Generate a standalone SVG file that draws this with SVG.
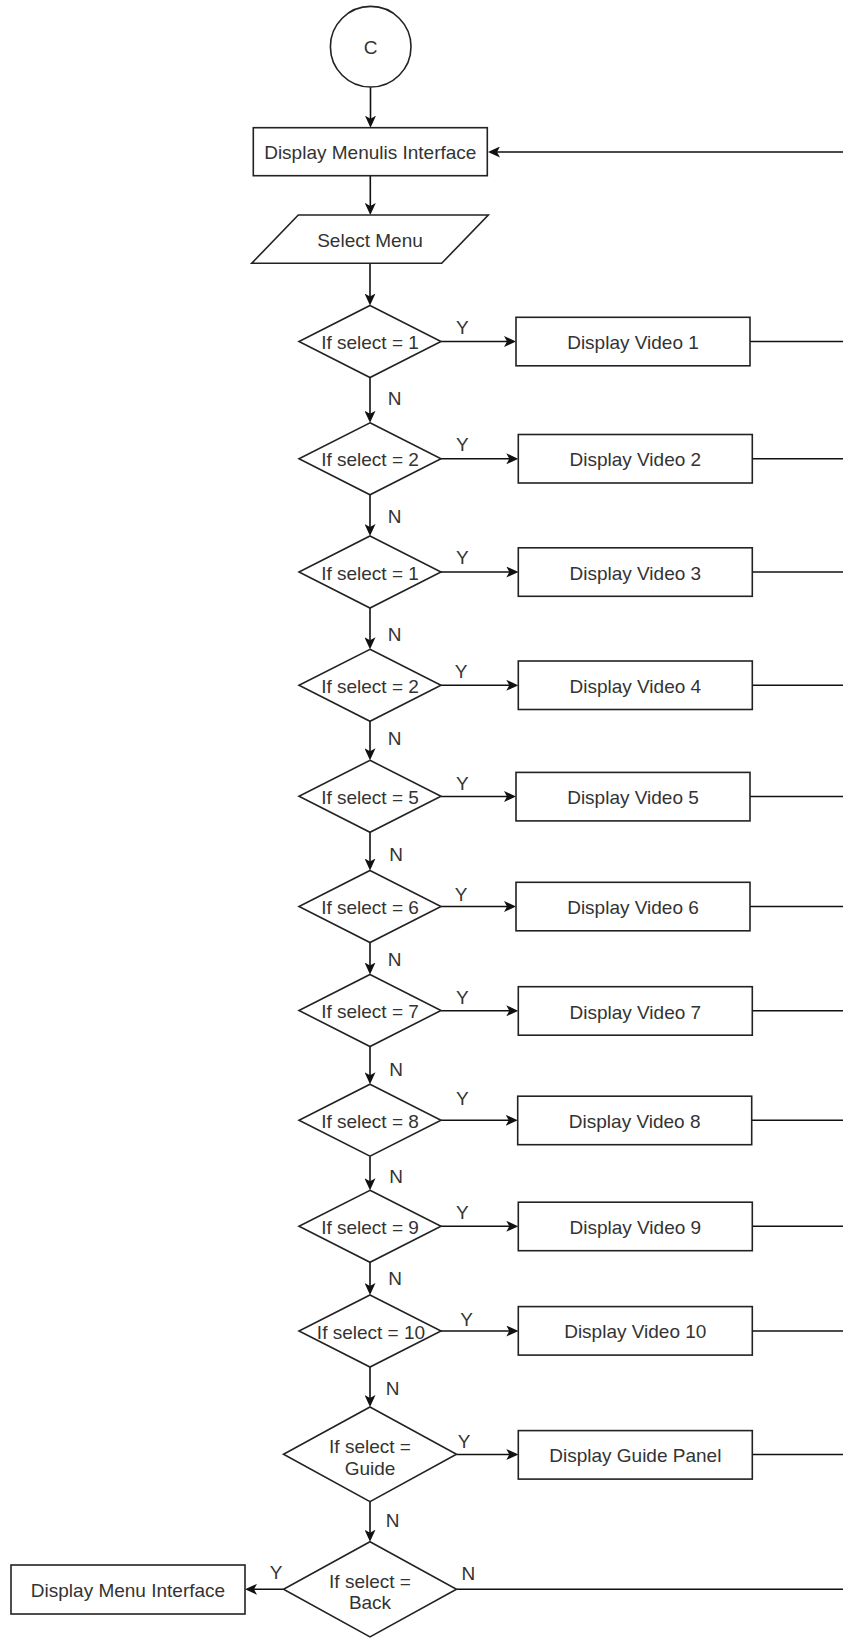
<svg xmlns="http://www.w3.org/2000/svg" width="843" height="1638" viewBox="0 0 843 1638">
  <style>
    .shape { fill: #ffffff; stroke: #222222; stroke-width: 1.6; }
    .conn { fill: none; stroke: #111111; stroke-width: 1.6; }
    .lbl { font-family: "Liberation Sans", Arial, Helvetica, sans-serif; font-size: 19px; fill: #333333; text-anchor: middle; dominant-baseline: central; }
  </style>
  <defs>
    <marker id="arrow" markerUnits="userSpaceOnUse" markerWidth="12" markerHeight="11" refX="8" refY="5.5" orient="auto">
      <path d="M0,0 L12,5.5 L0,11 L3,5.5 Z" fill="#111111"/>
    </marker>
  </defs>
  <rect width="843" height="1638" fill="#ffffff"/>

  <!-- connectors -->
  <g id="connectors">
    <!-- main vertical flow -->
    <path class="conn" d="M370.5,87.3 V123.7" marker-end="url(#arrow)"/>
    <path class="conn" d="M370.3,175.7 V211" marker-end="url(#arrow)"/>
    <path class="conn" d="M370,263.3 V301.5" marker-end="url(#arrow)"/>
    <path class="conn" d="M370,377.5 V418.8" marker-end="url(#arrow)"/>
    <path class="conn" d="M370,494.8 V532" marker-end="url(#arrow)"/>
    <path class="conn" d="M370,608 V645.3" marker-end="url(#arrow)"/>
    <path class="conn" d="M370,721.3 V756.3" marker-end="url(#arrow)"/>
    <path class="conn" d="M370,832.3 V866.5" marker-end="url(#arrow)"/>
    <path class="conn" d="M370,942.5 V970.5" marker-end="url(#arrow)"/>
    <path class="conn" d="M370,1046.5 V1080.2" marker-end="url(#arrow)"/>
    <path class="conn" d="M370,1156.2 V1186.3" marker-end="url(#arrow)"/>
    <path class="conn" d="M370,1262.3 V1291" marker-end="url(#arrow)"/>
    <path class="conn" d="M370,1367 V1403" marker-end="url(#arrow)"/>
    <path class="conn" d="M370,1501.6 V1537.7" marker-end="url(#arrow)"/>

    <!-- return to menu -->
    <path class="conn" d="M843,152 H492" marker-end="url(#arrow)"/>

    <!-- Y branches -->
    <path class="conn" d="M441,341.5 H512" marker-end="url(#arrow)"/>
    <path class="conn" d="M441,458.8 H514.3" marker-end="url(#arrow)"/>
    <path class="conn" d="M441,572 H514.3" marker-end="url(#arrow)"/>
    <path class="conn" d="M441,685.3 H514.3" marker-end="url(#arrow)"/>
    <path class="conn" d="M441,796.5 H512" marker-end="url(#arrow)"/>
    <path class="conn" d="M441,906.5 H512" marker-end="url(#arrow)"/>
    <path class="conn" d="M441,1010.8 H514.3" marker-end="url(#arrow)"/>
    <path class="conn" d="M441,1120.3 H513.7" marker-end="url(#arrow)"/>
    <path class="conn" d="M441,1226.3 H514.3" marker-end="url(#arrow)"/>
    <path class="conn" d="M441,1331 H514.3" marker-end="url(#arrow)"/>
    <path class="conn" d="M456.5,1454.5 H514.3" marker-end="url(#arrow)"/>
    <path class="conn" d="M283.5,1589.3 H249" marker-end="url(#arrow)"/>

    <!-- lines back to the menu loop -->
    <path class="conn" d="M750,341.5 H843"/>
    <path class="conn" d="M752.3,458.8 H843"/>
    <path class="conn" d="M752.3,572 H843"/>
    <path class="conn" d="M752.3,685.3 H843"/>
    <path class="conn" d="M750,796.5 H843"/>
    <path class="conn" d="M750,906.5 H843"/>
    <path class="conn" d="M752.3,1010.8 H843"/>
    <path class="conn" d="M751.7,1120.3 H843"/>
    <path class="conn" d="M752.3,1226.3 H843"/>
    <path class="conn" d="M752.3,1331 H843"/>
    <path class="conn" d="M752.3,1454.5 H843"/>
    <path class="conn" d="M456.5,1589.3 H843"/>

    <!-- branch labels -->
    <text class="lbl" x="462.3" y="327">Y</text>
    <text class="lbl" x="462.3" y="444">Y</text>
    <text class="lbl" x="462.3" y="557">Y</text>
    <text class="lbl" x="461" y="671">Y</text>
    <text class="lbl" x="462.3" y="783.5">Y</text>
    <text class="lbl" x="461" y="894">Y</text>
    <text class="lbl" x="462.3" y="997">Y</text>
    <text class="lbl" x="462.3" y="1098.5">Y</text>
    <text class="lbl" x="462.3" y="1212.5">Y</text>
    <text class="lbl" x="466.7" y="1319">Y</text>
    <text class="lbl" x="464" y="1441">Y</text>
    <text class="lbl" x="276" y="1572">Y</text>
    <text class="lbl" x="468.3" y="1573">N</text>

    <text class="lbl" x="394.5" y="398.5">N</text>
    <text class="lbl" x="394.5" y="516">N</text>
    <text class="lbl" x="394.5" y="634">N</text>
    <text class="lbl" x="394.5" y="738.5">N</text>
    <text class="lbl" x="396" y="854.5">N</text>
    <text class="lbl" x="394.5" y="959">N</text>
    <text class="lbl" x="396" y="1069">N</text>
    <text class="lbl" x="396" y="1176">N</text>
    <text class="lbl" x="395" y="1278">N</text>
    <text class="lbl" x="392.7" y="1388.5">N</text>
    <text class="lbl" x="392.7" y="1520">N</text>
  </g>

  <!-- start connector -->
  <g id="start">
    <circle class="shape" cx="370.7" cy="46.7" r="40.3"/>
    <text class="lbl" x="370.7" y="47.5">C</text>
  </g>

  <g id="menu-interface">
    <rect class="shape" x="253.3" y="127.7" width="234" height="48"/>
    <text class="lbl" x="370.3" y="152.5">Display Menulis Interface</text>
  </g>

  <g id="select-menu">
    <polygon class="shape" points="298.3,215 488.3,215 441.7,263.3 251.7,263.3"/>
    <text class="lbl" x="370" y="240">Select Menu</text>
  </g>

  <!-- decisions -->
  <g id="dec-1">
    <polygon class="shape" points="370,305.5 441,341.5 370,377.5 299,341.5"/>
    <text class="lbl" x="370" y="342.5">If select = 1</text>
  </g>
  <g id="dec-2">
    <polygon class="shape" points="370,422.8 441,458.8 370,494.8 299,458.8"/>
    <text class="lbl" x="370" y="459.8">If select = 2</text>
  </g>
  <g id="dec-3">
    <polygon class="shape" points="370,536 441,572 370,608 299,572"/>
    <text class="lbl" x="370" y="573">If select = 1</text>
  </g>
  <g id="dec-4">
    <polygon class="shape" points="370,649.3 441,685.3 370,721.3 299,685.3"/>
    <text class="lbl" x="370" y="686.3">If select = 2</text>
  </g>
  <g id="dec-5">
    <polygon class="shape" points="370,760.3 441,796.3 370,832.3 299,796.3"/>
    <text class="lbl" x="370" y="797.3">If select = 5</text>
  </g>
  <g id="dec-6">
    <polygon class="shape" points="370,870.5 441,906.5 370,942.5 299,906.5"/>
    <text class="lbl" x="370" y="907.5">If select = 6</text>
  </g>
  <g id="dec-7">
    <polygon class="shape" points="370,974.5 441,1010.5 370,1046.5 299,1010.5"/>
    <text class="lbl" x="370" y="1011.5">If select = 7</text>
  </g>
  <g id="dec-8">
    <polygon class="shape" points="370,1084.2 441,1120.2 370,1156.2 299,1120.2"/>
    <text class="lbl" x="370" y="1121.2">If select = 8</text>
  </g>
  <g id="dec-9">
    <polygon class="shape" points="370,1190.3 441,1226.3 370,1262.3 299,1226.3"/>
    <text class="lbl" x="370" y="1227.3">If select = 9</text>
  </g>
  <g id="dec-10">
    <polygon class="shape" points="370,1295 441,1331 370,1367 299,1331"/>
    <text class="lbl" x="371" y="1332">If select = 10</text>
  </g>
  <g id="dec-guide">
    <polygon class="shape" points="370,1407 456.5,1454.3 370,1501.6 283.5,1454.3"/>
    <text class="lbl" x="370" y="1446">If select =</text>
    <text class="lbl" x="370" y="1468.5">Guide</text>
  </g>
  <g id="dec-back">
    <polygon class="shape" points="370,1541.7 456.5,1589.3 370,1636.9 283.5,1589.3"/>
    <text class="lbl" x="370" y="1581">If select =</text>
    <text class="lbl" x="370" y="1602.5">Back</text>
  </g>

  <!-- actions -->
  <g id="video-1">
    <rect class="shape" x="516" y="317.3" width="234" height="48.5"/>
    <text class="lbl" x="633" y="342.5">Display Video 1</text>
  </g>
  <g id="video-2">
    <rect class="shape" x="518.3" y="434.5" width="234" height="48.5"/>
    <text class="lbl" x="635.3" y="459.5">Display Video 2</text>
  </g>
  <g id="video-3">
    <rect class="shape" x="518.3" y="547.8" width="234" height="48.5"/>
    <text class="lbl" x="635.3" y="573">Display Video 3</text>
  </g>
  <g id="video-4">
    <rect class="shape" x="518.3" y="661" width="234" height="48.5"/>
    <text class="lbl" x="635.3" y="686">Display Video 4</text>
  </g>
  <g id="video-5">
    <rect class="shape" x="516" y="772.4" width="234" height="48.5"/>
    <text class="lbl" x="633" y="797.5">Display Video 5</text>
  </g>
  <g id="video-6">
    <rect class="shape" x="516" y="882.3" width="234" height="48.5"/>
    <text class="lbl" x="633" y="907.5">Display Video 6</text>
  </g>
  <g id="video-7">
    <rect class="shape" x="518.3" y="986.7" width="234" height="48.5"/>
    <text class="lbl" x="635.3" y="1012">Display Video 7</text>
  </g>
  <g id="video-8">
    <rect class="shape" x="517.7" y="1096.2" width="234" height="48.5"/>
    <text class="lbl" x="634.7" y="1121.3">Display Video 8</text>
  </g>
  <g id="video-9">
    <rect class="shape" x="518.3" y="1202.2" width="234" height="48.5"/>
    <text class="lbl" x="635.3" y="1227.3">Display Video 9</text>
  </g>
  <g id="video-10">
    <rect class="shape" x="518.3" y="1306.6" width="234" height="48.5"/>
    <text class="lbl" x="635.3" y="1331.8">Display Video 10</text>
  </g>
  <g id="guide-panel">
    <rect class="shape" x="518.3" y="1430.6" width="234" height="48.5"/>
    <text class="lbl" x="635.3" y="1455.6">Display Guide Panel</text>
  </g>
  <g id="menu-interface-back">
    <rect class="shape" x="11" y="1565" width="234" height="49"/>
    <text class="lbl" x="128" y="1590.3">Display Menu Interface</text>
  </g>
</svg>
